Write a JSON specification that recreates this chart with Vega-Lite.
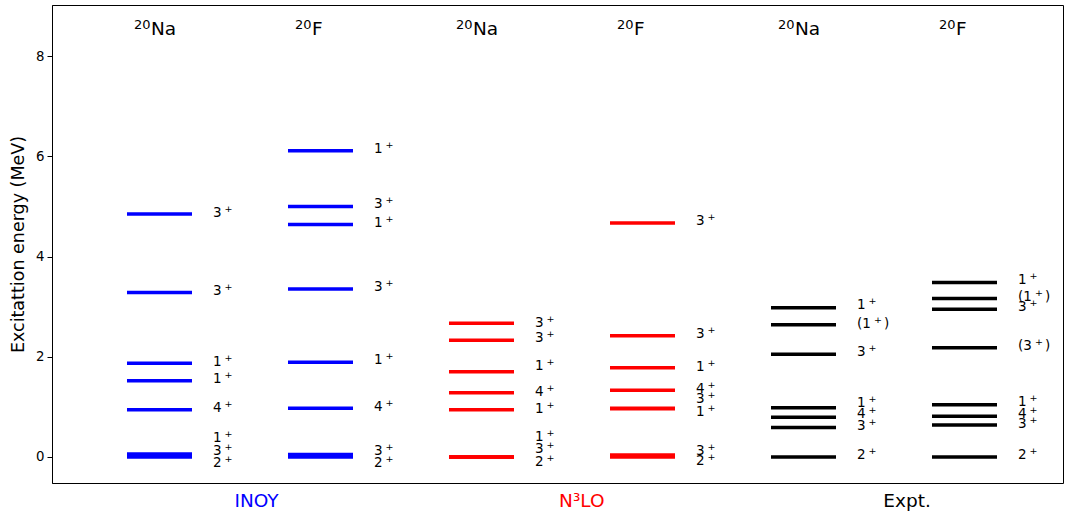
{
  "$schema": "https://vega.github.io/schema/vega-lite/v6.json",
  "width": 1011,
  "height": 478,
  "autosize": {"type": "none"},
  "padding": {"left": 52, "top": 5, "right": 2, "bottom": 31},
  "config": {
    "view": {"stroke": "black", "strokeWidth": 1},
    "font": "DejaVu Sans",
    "axis": {"grid": false, "labelFont": "DejaVu Sans", "titleFont": "DejaVu Sans", "domainColor": "black", "tickColor": "black", "labelColor": "black", "titleColor": "black", "titleFontWeight": "normal"}
  },
  "datasets": {
    "levels": [
      {"model": "INOY", "nucleus": "20Na", "col": 0, "E": 0.0, "J": "2", "paren": false, "LE": -0.13},
      {"model": "INOY", "nucleus": "20Na", "col": 0, "E": 0.03, "J": "3", "paren": false, "LE": 0.12},
      {"model": "INOY", "nucleus": "20Na", "col": 0, "E": 0.06, "J": "1", "paren": false, "LE": 0.37},
      {"model": "INOY", "nucleus": "20Na", "col": 0, "E": 0.94, "J": "4", "paren": false, "LE": 0.97},
      {"model": "INOY", "nucleus": "20Na", "col": 0, "E": 1.52, "J": "1", "paren": false, "LE": 1.56},
      {"model": "INOY", "nucleus": "20Na", "col": 0, "E": 1.87, "J": "1", "paren": false, "LE": 1.9},
      {"model": "INOY", "nucleus": "20Na", "col": 0, "E": 3.28, "J": "3", "paren": false, "LE": 3.31},
      {"model": "INOY", "nucleus": "20Na", "col": 0, "E": 4.85, "J": "3", "paren": false, "LE": 4.87},
      {"model": "INOY", "nucleus": "20F", "col": 1, "E": 0.0, "J": "2", "paren": false, "LE": -0.13},
      {"model": "INOY", "nucleus": "20F", "col": 1, "E": 0.05, "J": "3", "paren": false, "LE": 0.12},
      {"model": "INOY", "nucleus": "20F", "col": 1, "E": 0.97, "J": "4", "paren": false, "LE": 1.0},
      {"model": "INOY", "nucleus": "20F", "col": 1, "E": 1.89, "J": "1", "paren": false, "LE": 1.94},
      {"model": "INOY", "nucleus": "20F", "col": 1, "E": 3.35, "J": "3", "paren": false, "LE": 3.4},
      {"model": "INOY", "nucleus": "20F", "col": 1, "E": 4.64, "J": "1", "paren": false, "LE": 4.66},
      {"model": "INOY", "nucleus": "20F", "col": 1, "E": 5.0, "J": "3", "paren": false, "LE": 5.05},
      {"model": "INOY", "nucleus": "20F", "col": 1, "E": 6.11, "J": "1", "paren": false, "LE": 6.14},
      {"model": "N3LO", "nucleus": "20Na", "col": 2, "E": 0.0, "J": "2", "paren": false, "LE": -0.11},
      {"model": "N3LO", "nucleus": "20Na", "col": 2, "E": 0.0, "J": "3", "paren": false, "LE": 0.16},
      {"model": "N3LO", "nucleus": "20Na", "col": 2, "E": 0.0, "J": "1", "paren": false, "LE": 0.4},
      {"model": "N3LO", "nucleus": "20Na", "col": 2, "E": 0.94, "J": "1", "paren": false, "LE": 0.96},
      {"model": "N3LO", "nucleus": "20Na", "col": 2, "E": 1.28, "J": "4", "paren": false, "LE": 1.3},
      {"model": "N3LO", "nucleus": "20Na", "col": 2, "E": 1.7, "J": "1", "paren": false, "LE": 1.82},
      {"model": "N3LO", "nucleus": "20Na", "col": 2, "E": 2.33, "J": "3", "paren": false, "LE": 2.37},
      {"model": "N3LO", "nucleus": "20Na", "col": 2, "E": 2.67, "J": "3", "paren": false, "LE": 2.68},
      {"model": "N3LO", "nucleus": "20F", "col": 3, "E": 0.0, "J": "2", "paren": false, "LE": -0.09},
      {"model": "N3LO", "nucleus": "20F", "col": 3, "E": 0.04, "J": "3", "paren": false, "LE": 0.11},
      {"model": "N3LO", "nucleus": "20F", "col": 3, "E": 0.96, "J": "1", "paren": false, "LE": 0.9},
      {"model": "N3LO", "nucleus": "20F", "col": 3, "E": 0.97, "J": "3", "paren": false, "LE": 1.15},
      {"model": "N3LO", "nucleus": "20F", "col": 3, "E": 1.33, "J": "4", "paren": false, "LE": 1.36},
      {"model": "N3LO", "nucleus": "20F", "col": 3, "E": 1.78, "J": "1", "paren": false, "LE": 1.8},
      {"model": "N3LO", "nucleus": "20F", "col": 3, "E": 2.42, "J": "3", "paren": false, "LE": 2.45},
      {"model": "N3LO", "nucleus": "20F", "col": 3, "E": 4.67, "J": "3", "paren": false, "LE": 4.7},
      {"model": "Expt", "nucleus": "20Na", "col": 4, "E": 0.0, "J": "2", "paren": false, "LE": 0.03},
      {"model": "Expt", "nucleus": "20Na", "col": 4, "E": 0.59, "J": "3", "paren": false, "LE": 0.62},
      {"model": "Expt", "nucleus": "20Na", "col": 4, "E": 0.79, "J": "4", "paren": false, "LE": 0.86},
      {"model": "Expt", "nucleus": "20Na", "col": 4, "E": 0.98, "J": "1", "paren": false, "LE": 1.07},
      {"model": "Expt", "nucleus": "20Na", "col": 4, "E": 2.05, "J": "3", "paren": false, "LE": 2.09},
      {"model": "Expt", "nucleus": "20Na", "col": 4, "E": 2.64, "J": "1", "paren": true, "LE": 2.65},
      {"model": "Expt", "nucleus": "20Na", "col": 4, "E": 2.98, "J": "1", "paren": false, "LE": 3.03},
      {"model": "Expt", "nucleus": "20F", "col": 5, "E": 0.0, "J": "2", "paren": false, "LE": 0.04},
      {"model": "Expt", "nucleus": "20F", "col": 5, "E": 0.64, "J": "3", "paren": false, "LE": 0.66},
      {"model": "Expt", "nucleus": "20F", "col": 5, "E": 0.81, "J": "4", "paren": false, "LE": 0.86},
      {"model": "Expt", "nucleus": "20F", "col": 5, "E": 1.04, "J": "1", "paren": false, "LE": 1.1},
      {"model": "Expt", "nucleus": "20F", "col": 5, "E": 2.18, "J": "3", "paren": true, "LE": 2.21},
      {"model": "Expt", "nucleus": "20F", "col": 5, "E": 2.95, "J": "3", "paren": false, "LE": 3.0},
      {"model": "Expt", "nucleus": "20F", "col": 5, "E": 3.16, "J": "1", "paren": true, "LE": 3.2},
      {"model": "Expt", "nucleus": "20F", "col": 5, "E": 3.48, "J": "1", "paren": false, "LE": 3.53}
    ],
    "headers": [
      {"col": 0, "A": "20", "el": "Na"},
      {"col": 1, "A": "20", "el": "F"},
      {"col": 2, "A": "20", "el": "Na"},
      {"col": 3, "A": "20", "el": "F"},
      {"col": 4, "A": "20", "el": "Na"},
      {"col": 5, "A": "20", "el": "F"}
    ]
  },
  "encoding": {
    "x": {
      "field": "col",
      "type": "quantitative",
      "scale": {"domain": [-0.6677, 5.6118], "nice": false, "zero": false},
      "axis": {
        "title": null,
        "values": [0.6, 2.62, 4.64],
        "labelExpr": "datum.value < 1.5 ? 'INOY' : datum.value < 3.5 ? 'N³LO' : 'Expt.'",
        "labelColor": {"condition": [{"test": "datum.value < 1.5", "value": "#0000ff"}, {"test": "datum.value < 3.5", "value": "#ff0000"}], "value": "black"},
        "ticks": false,
        "domain": false,
        "labelFontSize": 18.5,
        "labelPadding": 8
      }
    }
  },
  "layer": [
    {
      "data": {"name": "levels"},
      "mark": {"type": "tick", "orient": "horizontal", "size": 65, "thickness": 3.5, "opacity": 1},
      "encoding": {
        "y": {
          "field": "E",
          "type": "quantitative",
          "scale": {"domain": [-0.52, 9.02], "nice": false, "zero": false},
          "axis": {"title": "Excitattion energy (MeV)", "values": [0, 2, 4, 6, 8], "labelFontSize": 13.3, "titleFontSize": 17.5, "tickSize": 5, "labelPadding": 3, "titlePadding": 8}
        },
        "color": {"field": "model", "type": "nominal", "scale": {"domain": ["INOY", "N3LO", "Expt"], "range": ["#0000ff", "#ff0000", "#000000"]}, "legend": null}
      }
    },
    {
      "data": {"name": "levels"},
      "transform": [{"filter": "!datum.paren"}],
      "mark": {"type": "text", "align": "left", "baseline": "middle", "dx": 53.5, "fontSize": 13.5, "color": "black"},
      "encoding": {
        "y": {"field": "LE", "type": "quantitative"},
        "text": {"field": "J"}
      }
    },
    {
      "data": {"name": "levels"},
      "transform": [{"filter": "!datum.paren"}],
      "mark": {"type": "text", "align": "left", "baseline": "middle", "dx": 65, "dy": -4, "fontSize": 9.5, "color": "black"},
      "encoding": {
        "y": {"field": "LE", "type": "quantitative"},
        "text": {"value": "+"}
      }
    },
    {
      "data": {"name": "levels"},
      "transform": [{"filter": "datum.paren"}],
      "mark": {"type": "text", "align": "left", "baseline": "middle", "dx": 53.5, "fontSize": 13.5, "color": "black"},
      "encoding": {
        "y": {"field": "LE", "type": "quantitative"},
        "text": {"value": "("}
      }
    },
    {
      "data": {"name": "levels"},
      "transform": [{"filter": "datum.paren"}],
      "mark": {"type": "text", "align": "left", "baseline": "middle", "dx": 58.8, "fontSize": 13.5, "color": "black"},
      "encoding": {
        "y": {"field": "LE", "type": "quantitative"},
        "text": {"field": "J"}
      }
    },
    {
      "data": {"name": "levels"},
      "transform": [{"filter": "datum.paren"}],
      "mark": {"type": "text", "align": "left", "baseline": "middle", "dx": 70.5, "dy": -4, "fontSize": 9.5, "color": "black"},
      "encoding": {
        "y": {"field": "LE", "type": "quantitative"},
        "text": {"value": "+"}
      }
    },
    {
      "data": {"name": "levels"},
      "transform": [{"filter": "datum.paren"}],
      "mark": {"type": "text", "align": "left", "baseline": "middle", "dx": 80.5, "fontSize": 13.5, "color": "black"},
      "encoding": {
        "y": {"field": "LE", "type": "quantitative"},
        "text": {"value": ")"}
      }
    },
    {
      "data": {"name": "headers"},
      "mark": {"type": "text", "align": "left", "baseline": "alphabetic", "dx": -25.5, "fontSize": 13, "color": "black"},
      "encoding": {
        "y": {"datum": 8.55},
        "text": {"field": "A"}
      }
    },
    {
      "data": {"name": "headers"},
      "mark": {"type": "text", "align": "left", "baseline": "alphabetic", "dx": -8.5, "fontSize": 18.5, "color": "black"},
      "encoding": {
        "y": {"datum": 8.42},
        "text": {"field": "el"}
      }
    }
  ]
}
